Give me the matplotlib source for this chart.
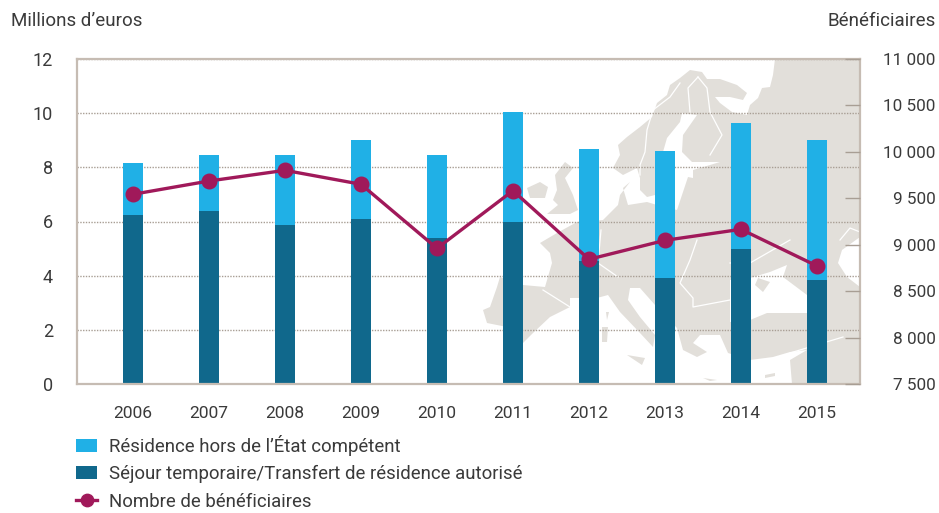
import matplotlib.pyplot as plt
from matplotlib.patches import Polygon

plt.rcParams['font.family'] = ['Roboto', 'DejaVu Sans']

years = [2006, 2007, 2008, 2009, 2010, 2011, 2012, 2013, 2014, 2015]
sejour = [6.24, 6.39, 5.87, 6.09, 5.39, 5.98, 4.55, 3.91, 4.99, 3.84]
total = [8.16, 8.46, 8.46, 9.01, 8.46, 10.04, 8.68, 8.60, 9.64, 9.01]
residence = [t - s for t, s in zip(total, sejour)]
beneficiaires = [9543, 9686, 9801, 9651, 8961, 9582, 8843, 9047, 9166, 8771]

left_ticks = [0, 2, 4, 6, 8, 10, 12]
right_ticks = [7500, 8000, 8500, 9000, 9500, 10000, 10500, 11000]
right_labels = ['7 500', '8 000', '8 500', '9 000', '9 500', '10 000', '10 500', '11 000']

light_blue = '#20b0e6'
dark_blue = '#10688c'
purple = '#a0195a'
frame = '#c6bcb3'
land = '#e2dfda'
text_col = '#3a3a3a'

# backdrop map, rough outline in picture pixels
continent = [(775, 59), (773, 75), (770, 87), (762, 88), (758, 98), (750, 105), (747, 115), (732, 112),
             (720, 103), (715, 97), (730, 97), (743, 100), (747, 93), (737, 85), (720, 79), (707, 79),
             (702, 72), (690, 70), (680, 78), (670, 85), (667, 95), (657, 103), (652, 117), (640, 127),
             (627, 137), (618, 145), (620, 155), (613, 168), (623, 175), (637, 168), (640, 178), (640, 190),
             (647, 197), (655, 195), (660, 190), (663, 170), (663, 152), (667, 138), (680, 122), (682, 113),
             (697, 115), (683, 135), (682, 152), (692, 162), (720, 162), (710, 165), (693, 170), (693, 178),
             (688, 177), (682, 195), (677, 210), (657, 205), (647, 202), (628, 205), (623, 188), (630, 182),
             (620, 195), (618, 205), (603, 220), (577, 222), (557, 233), (540, 243), (550, 253), (552, 263),
             (545, 287), (523, 285), (500, 277), (497, 287), (490, 307), (483, 310), (487, 323), (507, 327),
             (523, 343), (533, 333), (550, 317), (570, 307), (570, 298), (597, 298), (608, 295), (620, 312),
             (640, 333), (653, 347), (655, 335), (640, 317), (628, 300), (630, 288), (640, 288), (655, 305),
             (677, 328), (683, 350), (697, 357), (707, 352), (693, 343), (700, 335), (720, 335), (728, 353),
             (750, 360), (773, 357), (790, 352), (807, 350), (790, 360), (792, 384), (860, 384), (860, 59)]
islands = [[(527, 188), (540, 182), (548, 187), (545, 198), (530, 198)],
           [(565, 162), (573, 168), (565, 178), (573, 195), (578, 210), (570, 214), (547, 214), (558, 205),
            (553, 200), (557, 190), (555, 175)],
           [(627, 355), (645, 358), (642, 365)],
           [(602, 327), (608, 327), (607, 342), (602, 342)],
           [(606, 312), (609, 312), (607, 320)],
           [(765, 375), (775, 373), (775, 376), (765, 378)],
           [(703, 378), (717, 380), (710, 381)],
           [(758, 278), (770, 282), (763, 292), (755, 285)]]
seas = [[(730, 280), (750, 278), (770, 272), (787, 265), (783, 277), (807, 295), (808, 313), (767, 313),
         (750, 320), (730, 322)],
        [(860, 237), (842, 250), (838, 263), (847, 277), (860, 287)]]
borders = [[(680, 83), (670, 97), (653, 110), (647, 130), (645, 152), (640, 165), (640, 175)],
           [(698, 77), (707, 88), (710, 112), (722, 135), (710, 155)],
           [(698, 77), (688, 88), (690, 112)],
           [(543, 290), (570, 307)],
           [(601, 230), (598, 263), (618, 277)],
           [(697, 240), (690, 260), (680, 283), (693, 298), (693, 307), (730, 300)],
           [(730, 263), (750, 263), (790, 240)],
           [(790, 353), (843, 337)],
           [(840, 240), (850, 228), (860, 232)]]

fig = plt.figure(figsize=(9.39, 5.13), dpi=100)
rect = [76.5 / 939, 1 - 384 / 513, (860 - 76.5) / 939, (384 - 59) / 513]

bg = fig.add_axes(rect, zorder=0)
bg.set_xlim(76.5, 860)
bg.set_ylim(384, 59)
bg.axis('off')
bg.add_patch(Polygon(continent, fc=land, ec='none'))
for p in islands:
    bg.add_patch(Polygon(p, fc=land, ec='none', zorder=3))
for p in seas:
    bg.add_patch(Polygon(p, fc='white', ec='none', zorder=2))
for b in borders:
    bg.plot(*zip(*b), color='white', lw=0.9, zorder=4)

ax = fig.add_axes(rect, zorder=1)
ax.patch.set_alpha(0)
ax.set_xlim(2006 - 0.743, 2015 + 0.566)
ax.set_ylim(0, 12)
ax.yaxis.grid(True, color='#a89e94', lw=1, ls=(0, (1, 1)))
ax.set_axisbelow(True)
b1 = ax.bar(years, sejour, width=0.265, color=dark_blue,
            label='Séjour temporaire/Transfert de résidence autorisé')
b2 = ax.bar(years, residence, width=0.265, bottom=sejour, color=light_blue,
            label='Résidence hors de l’État compétent')
ax.set_xticks(years)
ax.set_xticklabels(years)
ax.set_yticks(left_ticks)
ax.tick_params(axis='x', length=0, pad=15.5, labelsize=12.5, labelcolor=text_col)
ax.tick_params(axis='y', length=0, pad=17, labelsize=13, labelcolor=text_col)
for s in ax.spines.values():
    s.set_color(frame)
    s.set_linewidth(1.6)

ax2 = ax.twinx()
ax2.set_ylim(7500, 11000)
ax2.set_yticks(right_ticks)
ax2.set_yticklabels(right_labels, ha='right')
ax2.tick_params(axis='y', direction='in', length=11, width=1, color='#a89e94',
                pad=54.5, labelsize=12.3, labelcolor=text_col)
for t in ax2.yaxis.get_ticklines():
    t.set_linestyle((0, (1, 1)))
for s in ax2.spines.values():
    s.set_visible(False)
l1, = ax2.plot(years, beneficiaires, color=purple, lw=2.4, marker='o', ms=10.5,
               label='Nombre de bénéficiaires')

fig.text(11 / 939, 1 - 21 / 513, 'Millions d’euros', fontsize=13.5, color=text_col, va='center')
fig.text(936 / 939, 1 - 21 / 513, 'Bénéficiaires', fontsize=13.5, color=text_col, va='center', ha='right')

fig.legend(handles=[b2, b1, l1], loc='upper left', bbox_to_anchor=(76 / 939, 1 - 435 / 513),
           bbox_transform=fig.transFigure, frameon=False, borderpad=0, borderaxespad=0,
           fontsize=13.4, labelcolor=text_col, handlelength=1.15, handleheight=0.7,
           handletextpad=0.6, labelspacing=0.5, markerscale=0.85)

fig.savefig('out.png', dpi=100)
